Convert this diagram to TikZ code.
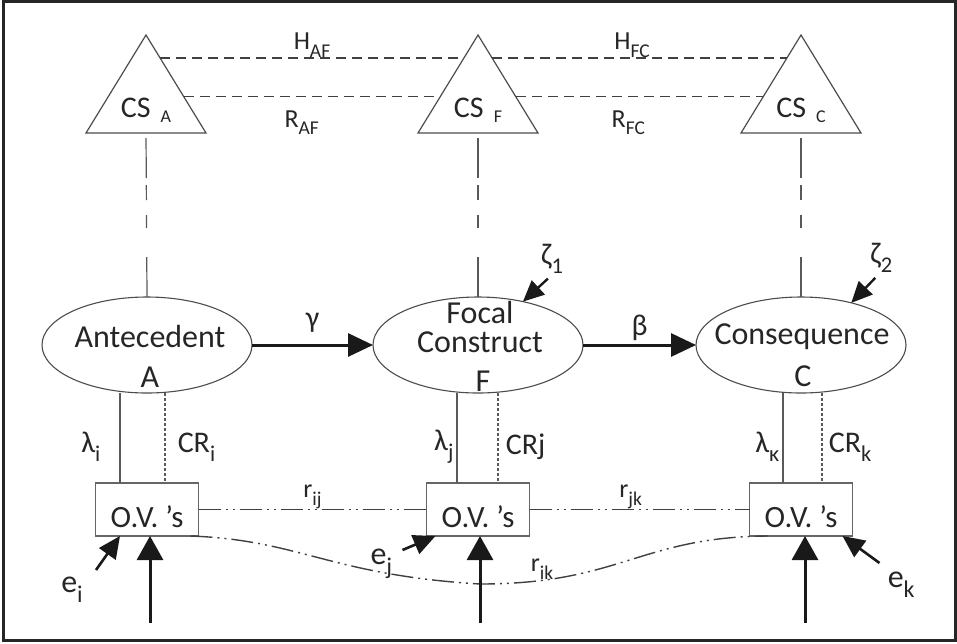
\documentclass[tikz,border=0pt]{standalone}
\usepackage{fontspec}
\setmainfont{Carlito}
\usepackage{graphicx}
\usetikzlibrary{arrows.meta,shapes.geometric,calc}

% lowered, smaller index as in the printed figure
\newcommand{\lo}[1]{\raisebox{-.3em}{\scalebox{.75}{#1}}}
\newcommand{\cssub}[1]{\hspace{5pt}\raisebox{-2.5pt}{\fontsize{9}{10}\selectfont #1}}

\begin{document}
\begin{tikzpicture}[
    x=0.5pt, y=-0.5pt,
    cstri/.style={isosceles triangle, isosceles triangle stretches,
      shape border rotate=90, minimum width=60pt, minimum height=49pt,
      draw=black!70, line width=.6pt, inner sep=0pt, outer sep=0pt, anchor=lower side},
    latent/.style={ellipse, draw=black!70, line width=.55pt,
      minimum width=105pt, minimum height=48pt, inner sep=0pt, outer sep=0pt},
    ovbox/.style={draw=black!60, line width=.8pt, minimum width=51.5pt,
      minimum height=26.5pt, inner sep=0pt, outer sep=0pt, text height=17.5pt,
      text depth=0pt, text=black!85, font=\fontsize{15.5}{18}\selectfont},
    txt/.style={font=\fontsize{16}{14.5}\selectfont, align=center, inner sep=0pt, text=black!85},
    lbl/.style={font=\fontsize{15}{17}\selectfont, inner sep=0pt, text=black!85},
    elbl/.style={font=\fontsize{16}{18}\selectfont, inner sep=0pt, text=black!85},
    sublbl/.style={font=\fontsize{13}{15}\selectfont, inner sep=0pt, text=black!85},
    hline/.style={black!75, line width=.75pt, dash pattern=on 5pt off 3pt},
    cslink/.style={black!65, line width=.6pt, shorten <=2.5pt,
      dash pattern=on 20pt off 3.5pt on 7.5pt off 7.5pt on 6.5pt off 14.5pt on 20pt off 30pt},
    load/.style={black!65, line width=.6pt},
    crload/.style={black!65, line width=.75pt, dash pattern=on 1.5pt off 1pt},
    resid/.style={black!75, line width=.7pt,
      dash pattern=on 11pt off 2.5pt on 1pt off 2.5pt on 1pt off 2.5pt},
    effect/.style={black!90, line width=1.5pt, -{Triangle[length=12.5pt, width=11.5pt]}},
    inarr/.style={black!90, line width=1.5pt, {Triangle[length=12pt, width=13pt]}-},
    earr/.style={black!90, line width=1.3pt, {Triangle[length=11pt, width=10pt]}-},
    zarr/.style={black!90, line width=1.2pt, {Triangle[length=10.5pt, width=9.5pt]}-}
  ]
  \useasboundingbox (0,0) rectangle (957,643);
  \draw[black!85, line width=1.5pt] (3.5,1.5) rectangle (955.5,640.5);

  % construct spaces
  \node[cstri] (csA) at (146,133) {};
  \node[cstri] (csF) at (478,133) {};
  \node[cstri] (csC) at (801,133) {};
  \node[lbl] (csA-t) at (146,110) {CS\cssub{A}};
  \node[lbl] (csF-t) at (478,110) {CS\cssub{F}};
  \node[lbl] (csC-t) at (801,110) {CS\cssub{C}};

  \draw[hline] ($(csA.apex)!.235!(csA.right corner)$) -- ($(csF.apex)!.235!(csF.left corner)$)
    node[sublbl, midway, above] {H\lo{AF}};
  \draw[hline] ($(csF.apex)!.235!(csF.right corner)$) -- ($(csC.apex)!.235!(csC.left corner)$)
    node[sublbl, pos=.475, above] {H\lo{FC}};
  \draw[hline] ($(csA.apex)!.63!(csA.right corner)$) -- ($(csF.apex)!.63!(csF.left corner)$)
    node[sublbl, pos=.46, below=6.5pt] {R\lo{AF}};
  \draw[hline] ($(csF.apex)!.63!(csF.right corner)$) -- ($(csC.apex)!.63!(csC.left corner)$)
    node[sublbl, pos=.455, below=6.5pt] {R\lo{FC}};

  % latent constructs
  \node[latent] (A) at (147,345) {};
  \node[latent] (F) at (478,345) {};
  \node[latent] (C) at (801,345) {};
  \node[txt] (A-t) at (150,337) {Antecedent};
  \node[txt] (A-s) at (150,377) {A};
  \node[txt] (F-t) at (480,327) {Focal\\Construct};
  \node[txt] (F-s) at (483,381) {F};
  \node[txt] (C-t) at (802,337) {Consequence};
  \node[txt] (C-s) at (803,376) {C};

  \draw[cslink] (csA.lower side) -- (A.north);
  \draw[cslink] (csF.lower side) -- (F.north);
  \draw[cslink] (csC.lower side) -- (C.north);

  \draw[effect] (A.east) -- (F.west) node[lbl, midway, above=5.5pt] {γ};
  \draw[effect] (F.east) -- (C.west) node[lbl, midway, above=1.5pt] {β};

  \draw[zarr] (F.44) -- ++(25,-23) node[lbl, anchor=south west, xshift=-4pt, yshift=2pt] {ζ\lo{1}};
  \draw[zarr] (C.40) -- ++(24,-25) node[lbl, anchor=south west, xshift=-3pt, yshift=2pt] {ζ\lo{2}};

  % observed variables
  \node[ovbox] (oA) at (147,509.5) {O.V. ’s};
  \node[ovbox] (oF) at (478,509.5) {O.V. ’s};
  \node[ovbox] (oC) at (801,509.5) {O.V. ’s};

  \draw[load] ([xshift=-13.5pt]A.south) -- ([xshift=-13.5pt]oA.north)
    node[lbl, pos=.6, left=9.5pt] {λ\lo{i}};
  \draw[crload] ([xshift=9pt]A.south) -- ([xshift=9pt]oA.north)
    node[lbl, pos=.6, right=6pt] {CR\lo{i}};
  \draw[load] ([xshift=-10.5pt]F.south) -- ([xshift=-10.5pt]oF.north)
    node[lbl, pos=.6, left=1.5pt] {λ\lo{j}};
  \draw[crload] ([xshift=10pt]F.south) -- ([xshift=10pt]oF.north)
    node[lbl, pos=.6, right=3.5pt] {CRj};
  \draw[load] ([xshift=-9pt]C.south) -- ([xshift=-9pt]oC.north)
    node[lbl, pos=.6, left=1.5pt] {λ\lo{κ}};
  \draw[crload] ([xshift=10.5pt]C.south) -- ([xshift=10.5pt]oC.north)
    node[lbl, pos=.6, right=3pt] {CR\lo{k}};

  \draw[resid] (oA.east) -- (oF.west) node[sublbl, midway, above] {r\lo{ij}};
  \draw[resid] (oF.east) -- (oC.west) node[sublbl, pos=.46, above] {r\lo{jk}};
  \draw[resid] ([xshift=-4pt]oA.south east) .. controls (300,540) and (330,575) .. (480,584)
    .. controls (620,584) and (640,537) .. ([xshift=9pt]oC.south west)
    node[sublbl, pos=.17, above] {r\lo{ik}};

  % errors and inputs
  \draw[earr] ([xshift=-13.5pt]oA.south) -- ++(-24,34)
    node[elbl, anchor=north east, xshift=-6pt, yshift=-3pt] {e\lo{i}};
  \draw[earr] ([xshift=4.5pt]oF.south west) -- ++(-33,14)
    node[elbl, anchor=north east, xshift=-4.5pt, yshift=1pt] {e\lo{j}};
  \draw[earr] ([xshift=-5pt]oC.south east) -- ++(37,27)
    node[elbl, anchor=north west, xshift=3.5pt, yshift=-4pt] {e\lo{k}};

  \draw[inarr] ([xshift=1.5pt]oA.south) -- ++(0,87);
  \draw[inarr] ([xshift=1pt]oF.south) -- ++(0,87);
  \draw[inarr] ([xshift=2pt]oC.south) -- ++(0,87);
\end{tikzpicture}
\end{document}
